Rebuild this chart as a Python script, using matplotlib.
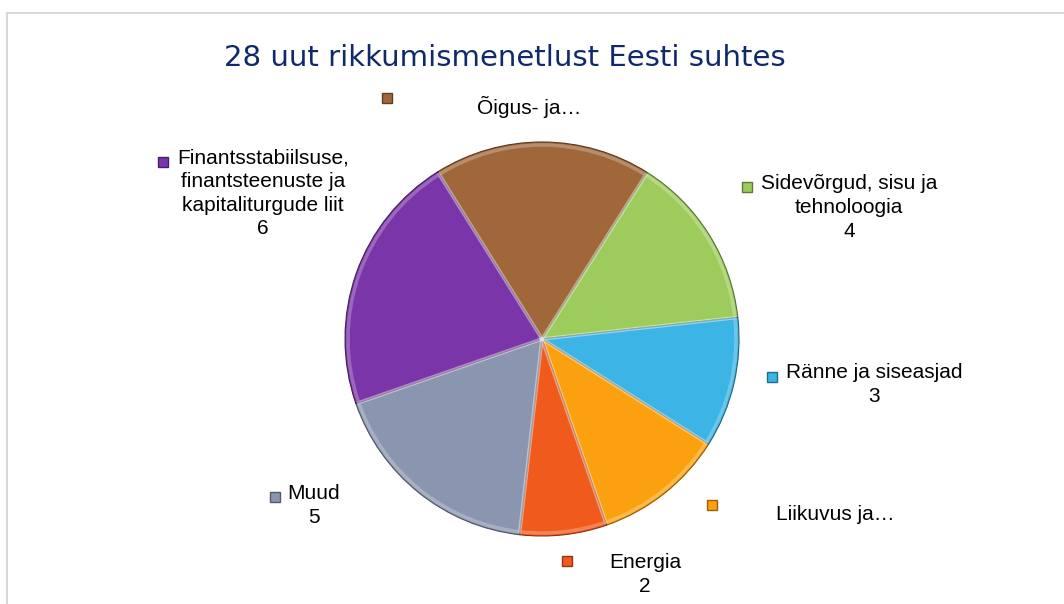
import matplotlib.pyplot as plt
import matplotlib.colors as mcolors
from matplotlib.patches import Rectangle
from matplotlib.lines import Line2D

# data
categories = ['Õigus- ja tarbijaküsimused', 'Sidevõrgud, sisu ja tehnoloogia', 'Ränne ja siseasjad',
              'Liikuvus ja transport', 'Energia', 'Muud',
              'Finantsstabiilsuse, finantsteenuste ja kapitaliturgude liit']
values = [5, 4, 3, 3, 2, 5, 6]
shown = ['Õigus- ja…', 'Sidevõrgud, sisu ja\ntehnoloogia\n4', 'Ränne ja siseasjad\n3',
         'Liikuvus ja…', 'Energia\n2', 'Muud\n5',
         'Finantsstabiilsuse,\nfinantsteenuste ja\nkapitaliturgude liit\n6']
colors = ['#A0683A', '#9DCB5C', '#3CB4E6', '#FBA10F', '#F05A1C', '#8A96B0', '#7A35A8']
title = '28 uut rikkumismenetlust Eesti suhtes'

W, H = 1064, 604
# label layout in pixel coords (top-left origin): key square x,y and text anchor x,y
key_pos = [(382, 93), (742, 182), (767, 372), (707, 500), (562, 556), (270, 492), (158, 157)]
text_pos = [(529, 96), (849, 174), (874, 363), (835, 505), (645, 553), (314, 484), (263, 148)]

plt.rcParams['font.family'] = ['Liberation Sans', 'DejaVu Sans']

fig = plt.figure(figsize=(W / 100, H / 100), dpi=100)
ax = fig.add_axes([0, 0, 1, 1])

cx, cy, r = 542, H - 339, 197
wedges, _ = ax.pie(values, colors=colors, startangle=122, counterclock=False,
                   center=(cx, cy), radius=r,
                   wedgeprops=dict(edgecolor='#4a3a30', linewidth=0.8))
for w, c in zip(wedges, colors):
    w.set_edgecolor(tuple(v * 0.55 for v in mcolors.to_rgb(c)))
# soft bevel highlight
ax.pie(values, startangle=122, counterclock=False, center=(cx, cy), radius=r - 3,
       colors=['none'] * len(values),
       wedgeprops=dict(edgecolor=(1, 1, 1, 0.25), linewidth=2.5, fill=False))

ax.set_xlim(0, W)
ax.set_ylim(0, H)
ax.set_aspect('equal')
ax.axis('off')

for (kx, ky), (tx, ty), txt, c in zip(key_pos, text_pos, shown, colors):
    ax.add_patch(Rectangle((kx, H - ky - 10), 10, 10, facecolor=c,
                           edgecolor=tuple(v * 0.6 for v in mcolors.to_rgb(c)), linewidth=1))
    ax.text(tx, H - ty, txt, ha='center', va='top', fontsize=15, color='black',
            linespacing=1.32)

ax.text(505, H - 58, title, ha='center', va='center', fontsize=21, color='#10296B',
        family='DejaVu Sans')

# chart frame
fig.add_artist(Line2D([7 / W, 1], [1 - 13 / H, 1 - 13 / H], color='#d9d9d9', lw=1.5))
fig.add_artist(Line2D([7 / W, 7 / W], [0, 1 - 13 / H], color='#d9d9d9', lw=1.5))

fig.savefig('out.png', dpi=100)
